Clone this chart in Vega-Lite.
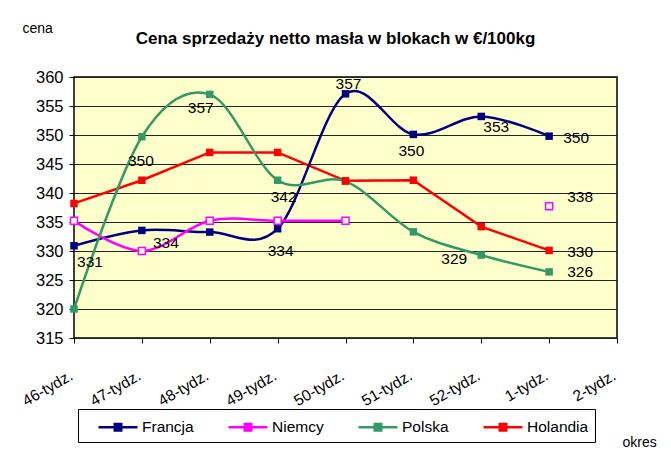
{
  "$schema": "https://vega.github.io/schema/vega-lite/v6.json",
  "width": 543,
  "height": 261,
  "autosize": "none",
  "padding": {"left": 74, "top": 77, "right": 54, "bottom": 125},
  "background": "white",
  "title": {
    "text": "Cena sprzedaży netto masła w blokach w €/100kg",
    "anchor": "middle",
    "frame": "group",
    "orient": "top",
    "offset": 0,
    "dx": -10,
    "dy": 40,
    "baseline": "alphabetic",
    "font": "Liberation Sans",
    "fontSize": 17,
    "fontWeight": "bold",
    "color": "#000"
  },
  "config": {
    "font": "Liberation Sans",
    "view": {"stroke": "#000", "strokeWidth": 1.5, "fill": "#FFFFCC"},
    "axis": {
      "domainColor": "#000",
      "tickColor": "#000",
      "labelColor": "#000",
      "titleColor": "#000",
      "labelFont": "Liberation Sans",
      "titleFont": "Liberation Sans"
    }
  },
  "data": {
    "values": [
      {"week": "46-tydz.", "country": "Francja", "value": 330.9, "label": "331"},
      {"week": "47-tydz.", "country": "Francja", "value": 333.55, "label": "334"},
      {"week": "48-tydz.", "country": "Francja", "value": 333.26, "label": null},
      {"week": "49-tydz.", "country": "Francja", "value": 333.84, "label": "334"},
      {"week": "50-tydz.", "country": "Francja", "value": 357.1, "label": "357"},
      {"week": "51-tydz.", "country": "Francja", "value": 350.1, "label": "350"},
      {"week": "52-tydz.", "country": "Francja", "value": 353.2, "label": "353"},
      {"week": "1-tydz.", "country": "Francja", "value": 349.8, "label": "350"},
      {"week": "46-tydz.", "country": "Niemcy", "value": 335.2, "label": null},
      {"week": "47-tydz.", "country": "Niemcy", "value": 330.0, "label": null},
      {"week": "48-tydz.", "country": "Niemcy", "value": 335.2, "label": null},
      {"week": "49-tydz.", "country": "Niemcy", "value": 335.2, "label": null},
      {"week": "50-tydz.", "country": "Niemcy", "value": 335.2, "label": null},
      {"week": "51-tydz.", "country": "Niemcy", "value": null, "label": null},
      {"week": "52-tydz.", "country": "Niemcy", "value": null, "label": null},
      {"week": "1-tydz.", "country": "Niemcy", "value": 337.7, "label": "338"},
      {"week": "46-tydz.", "country": "Polska", "value": 320.0, "label": null},
      {"week": "47-tydz.", "country": "Polska", "value": 349.7, "label": "350"},
      {"week": "48-tydz.", "country": "Polska", "value": 357.0, "label": "357"},
      {"week": "49-tydz.", "country": "Polska", "value": 342.2, "label": "342"},
      {"week": "50-tydz.", "country": "Polska", "value": 342.0, "label": null},
      {"week": "51-tydz.", "country": "Polska", "value": 333.3, "label": null},
      {"week": "52-tydz.", "country": "Polska", "value": 329.3, "label": "329"},
      {"week": "1-tydz.", "country": "Polska", "value": 326.4, "label": "326"},
      {"week": "46-tydz.", "country": "Holandia", "value": 338.2, "label": null},
      {"week": "47-tydz.", "country": "Holandia", "value": 342.2, "label": null},
      {"week": "48-tydz.", "country": "Holandia", "value": 347.0, "label": null},
      {"week": "49-tydz.", "country": "Holandia", "value": 347.0, "label": null},
      {"week": "50-tydz.", "country": "Holandia", "value": 342.1, "label": null},
      {"week": "51-tydz.", "country": "Holandia", "value": 342.2, "label": null},
      {"week": "52-tydz.", "country": "Holandia", "value": 334.2, "label": null},
      {"week": "1-tydz.", "country": "Holandia", "value": 330.1, "label": "330"}
    ]
  },
  "encoding": {
    "x": {
      "field": "week",
      "type": "ordinal",
      "sort": ["46-tydz.", "47-tydz.", "48-tydz.", "49-tydz.", "50-tydz.", "51-tydz.", "52-tydz.", "1-tydz.", "2-tydz."],
      "scale": {
        "type": "point",
        "padding": 0,
        "domain": ["46-tydz.", "47-tydz.", "48-tydz.", "49-tydz.", "50-tydz.", "51-tydz.", "52-tydz.", "1-tydz.", "2-tydz."]
      },
      "axis": {
        "title": "okres",
        "titleX": 548,
        "titleY": 104,
        "titleAlign": "left",
        "titleBaseline": "middle",
        "titleFontSize": 14,
        "titleFontWeight": "normal",
        "labelAngle": -30,
        "labelAlign": "right",
        "labelBaseline": "middle",
        "labelPadding": 31,
        "labelOffset": -3,
        "labelFontSize": 15.5,
        "tickSize": 5,
        "grid": false,
        "domain": false
      }
    },
    "y": {
      "field": "value",
      "type": "quantitative",
      "scale": {"domain": [315, 360], "nice": false, "zero": false},
      "axis": {
        "title": "cena",
        "titleAngle": 0,
        "titleX": -52,
        "titleY": -49,
        "titleAlign": "left",
        "titleBaseline": "middle",
        "titleFontSize": 14,
        "titleFontWeight": "normal",
        "values": [315, 320, 325, 330, 335, 340, 345, 350, 355, 360],
        "labelFontSize": 16.5,
        "labelPadding": 6,
        "tickSize": 5,
        "grid": true,
        "gridColor": "#222",
        "gridWidth": 1,
        "domain": false
      }
    }
  },
  "layer": [
    {
      "transform": [{"filter": "datum.country === 'Holandia'"}],
      "mark": {"type": "line", "strokeWidth": 2.5, "invalid": "break-paths-show-path-domains"},
      "encoding": {
        "color": {
          "field": "country",
          "type": "nominal",
          "scale": {"domain": ["Francja", "Niemcy", "Polska", "Holandia"], "range": ["#000080", "#FF00FF", "#339966", "#FF0000"]},
          "legend": {
            "title": null,
            "orient": "none",
            "legendX": 4,
            "legendY": 332,
            "direction": "horizontal",
            "columns": 4,
            "padding": 6,
            "strokeColor": "#000",
            "fillColor": "white",
            "symbolType": "M0.24,0H1.785M2.405,0H3.95M1.785,-0.31H2.405V0.31H1.785Z",
            "symbolSize": 441,
            "symbolStrokeWidth": 2.5,
            "labelOffset": 34,
            "columnPadding": 20,
            "labelFont": "Liberation Sans",
            "labelFontSize": 15.5,
            "labelColor": "#000",
            "labelLimit": 200,
            "encode": {
              "symbols": {
                "update": {
                  "fill": {"signal": "datum.value === 'Niemcy' ? 'white' : scale('color', datum.value)"},
                  "stroke": {"signal": "scale('color', datum.value)"},
                  "opacity": {"value": 1}
                }
              }
            }
          }
        }
      }
    },
    {
      "transform": [{"filter": "datum.country !== 'Holandia'"}],
      "mark": {"type": "line", "strokeWidth": 2.5, "interpolate": "cardinal", "invalid": "break-paths-show-path-domains"},
      "encoding": {
        "color": {"field": "country", "type": "nominal"}
      }
    },
    {
      "transform": [{"filter": "datum.country !== 'Niemcy' && datum.value != null"}],
      "mark": {"type": "point", "shape": "square", "filled": true, "size": 56, "opacity": 1},
      "encoding": {
        "color": {"field": "country", "type": "nominal"}
      }
    },
    {
      "transform": [{"filter": "datum.country === 'Niemcy' && datum.value != null"}],
      "mark": {"type": "point", "shape": "square", "filled": false, "fill": "white", "stroke": "#FF00FF", "strokeWidth": 1.5, "size": 49, "opacity": 1}
    },
    {
      "encoding": {"text": {"field": "label", "type": "nominal"}},
      "layer": [
        {"transform": [{"filter": "datum.country === 'Francja' && datum.week === '46-tydz.'"}], "mark": {"type": "text", "fontSize": 15.5, "color": "#000", "dx": 16, "dy": 16}},
        {"transform": [{"filter": "datum.country === 'Francja' && datum.week === '47-tydz.'"}], "mark": {"type": "text", "fontSize": 15.5, "color": "#000", "dx": 24, "dy": 13}},
        {"transform": [{"filter": "datum.country === 'Francja' && datum.week === '49-tydz.'"}], "mark": {"type": "text", "fontSize": 15.5, "color": "#000", "dx": 3, "dy": 22}},
        {"transform": [{"filter": "datum.country === 'Francja' && datum.week === '50-tydz.'"}], "mark": {"type": "text", "fontSize": 15.5, "color": "#000", "dx": 3, "dy": -10}},
        {"transform": [{"filter": "datum.country === 'Francja' && datum.week === '51-tydz.'"}], "mark": {"type": "text", "fontSize": 15.5, "color": "#000", "dx": -2, "dy": 17}},
        {"transform": [{"filter": "datum.country === 'Francja' && datum.week === '52-tydz.'"}], "mark": {"type": "text", "fontSize": 15.5, "color": "#000", "dx": 15, "dy": 11}},
        {"transform": [{"filter": "datum.country === 'Francja' && datum.week === '1-tydz.'"}], "mark": {"type": "text", "fontSize": 15.5, "color": "#000", "dx": 27, "dy": 2}},
        {"transform": [{"filter": "datum.country === 'Niemcy' && datum.week === '1-tydz.'"}], "mark": {"type": "text", "fontSize": 15.5, "color": "#000", "dx": 31, "dy": -9}},
        {"transform": [{"filter": "datum.country === 'Polska' && datum.week === '47-tydz.'"}], "mark": {"type": "text", "fontSize": 15.5, "color": "#000", "dx": -1, "dy": 24}},
        {"transform": [{"filter": "datum.country === 'Polska' && datum.week === '48-tydz.'"}], "mark": {"type": "text", "fontSize": 15.5, "color": "#000", "dx": -9, "dy": 14}},
        {"transform": [{"filter": "datum.country === 'Polska' && datum.week === '49-tydz.'"}], "mark": {"type": "text", "fontSize": 15.5, "color": "#000", "dx": 6, "dy": 17}},
        {"transform": [{"filter": "datum.country === 'Polska' && datum.week === '52-tydz.'"}], "mark": {"type": "text", "fontSize": 15.5, "color": "#000", "dx": -27, "dy": 4}},
        {"transform": [{"filter": "datum.country === 'Polska' && datum.week === '1-tydz.'"}], "mark": {"type": "text", "fontSize": 15.5, "color": "#000", "dx": 31, "dy": 0}},
        {"transform": [{"filter": "datum.country === 'Holandia' && datum.week === '1-tydz.'"}], "mark": {"type": "text", "fontSize": 15.5, "color": "#000", "dx": 31, "dy": 2}}
      ]
    }
  ]
}
